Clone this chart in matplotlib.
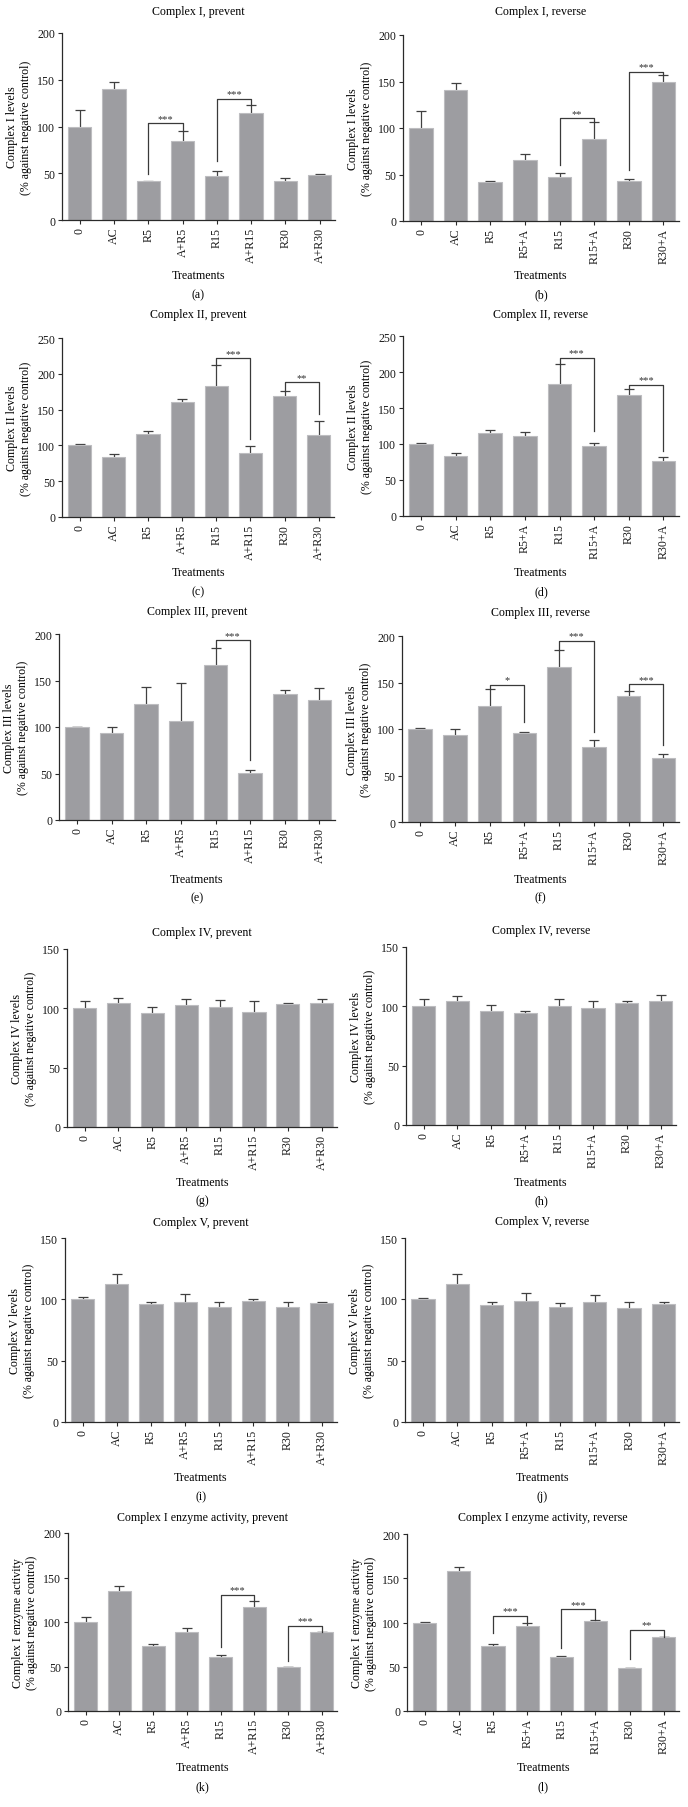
import matplotlib
matplotlib.use('Agg')
import matplotlib.pyplot as plt
import numpy as np

plt.rcParams['font.family'] = ['Liberation Serif', 'DejaVu Serif']

# ---------------- data ----------------
prevent_labels = ['0', 'AC', 'R5', 'A+R5', 'R15', 'A+R15', 'R30', 'A+R30']
reverse_labels = ['0', 'AC', 'R5', 'R5+A', 'R15', 'R15+A', 'R30', 'R30+A']

c1_prev = [100, 140.6, 41.5, 84, 46.9, 114.8, 42.2, 48]
c1_prev_err = [17.5, 7.4, 0.7, 10.8, 5, 8.2, 2.8, 1.7]
c1_rev = [100.4, 140.9, 41.9, 66, 47, 88.5, 42.6, 149]
c1_rev_err = [17.9, 7.5, 0.7, 5.7, 5, 17.5, 2.9, 7.6]

c2_prev = [100.4, 83.6, 115.7, 161.2, 183, 89.7, 168.7, 114.3]
c2_prev_err = [0.9, 4.2, 4.2, 3.3, 28.9, 9.7, 7.4, 19.5]
c2_rev = [100, 83.3, 115.3, 111.1, 182.9, 97.2, 168.5, 75.9]
c2_rev_err = [0.9, 3.7, 4.1, 5.6, 28.1, 4.7, 7.4, 5.6]

c3_prev = [100.2, 93.7, 124.9, 106.6, 166.7, 50.4, 135.6, 129.5]
c3_prev_err = [0.3, 6.1, 18.2, 40.4, 18.3, 2.9, 4.6, 12.5]
c3_rev = [100, 93.9, 125, 95.7, 167, 80.3, 135.8, 69.2]
c3_rev_err = [0.7, 6.1, 18.4, 1.1, 18.3, 7.9, 4.7, 3.9]

c4_prev = [100.2, 104.7, 96.3, 102.7, 100.8, 97.1, 103.3, 104.7]
c4_prev_err = [6.2, 3.9, 5, 5.4, 5.9, 8.7, 1.4, 3.1]
c4_rev = [100.1, 104.3, 96.1, 94.2, 100.4, 98.4, 102.9, 104.3]
c4_rev_err = [6.2, 4.2, 5.1, 2.2, 5.9, 6.5, 1.7, 5.1]

c5_prev = [100.3, 112.2, 95.9, 97.6, 93.8, 98.6, 93.8, 97]
c5_prev_err = [1.3, 8.2, 2.2, 6.5, 3.8, 1.4, 4, 0.6]
c5_rev = [100.1, 112.4, 95.7, 98.7, 93.5, 98.2, 93.3, 96.5]
c5_rev_err = [1.3, 7.9, 2.2, 6.8, 3.9, 5.7, 4.3, 1.4]

enz_prev = [99.6, 135.3, 72.9, 88.7, 60.9, 116.9, 48.9, 88.3]
enz_prev_err = [6, 5.3, 1.9, 4.5, 1.5, 6.8, 0, 0]
enz_rev = [100, 158.3, 73.3, 96.2, 60.9, 101.9, 48.5, 83.5]
enz_rev_err = [1.1, 4.9, 1.9, 3.8, 1.5, 1.1, 0, 0]

# significance brackets: (bar i, bar j, line height, left leg end, right leg end, label)
br_a = [(2, 3, 103.4, 49, 94.8, '***'), (4, 5, 129.5, 63, 123, '***')]
br_b = [(4, 5, 110.4, 60, 106, '**'), (6, 7, 160, 54.5, 156.6, '***')]
br_c = [(4, 5, 221.6, 211.9, 109.2, '***'), (6, 7, 188, 176.1, 144, '**')]
br_d = [(4, 5, 219.4, 211, 117.6, '***'), (6, 7, 182, 175.9, 90, '***')]
br_e = [(4, 5, 193.2, 185, 64.8, '***')]
br_f = [(2, 3, 147.7, 143.4, 108, '*'), (4, 5, 195, 185.3, 96.8, '***'),
        (6, 7, 148, 140.5, 82.4, '***')]
br_k = [(4, 5, 130.8, 71.4, 123.7, '***'), (6, 7, 95.5, 56.4, 88.3, '***')]
br_l = [(2, 3, 107.1, 88, 100, '***'), (4, 5, 114.7, 71, 103, '***'),
        (6, 7, 91.7, 59, 83.5, '**')]

titles = ['Complex I, prevent', 'Complex I, reverse',
          'Complex II, prevent', 'Complex II, reverse',
          'Complex III, prevent', 'Complex III, reverse',
          'Complex IV, prevent', 'Complex IV, reverse',
          'Complex V, prevent', 'Complex V, reverse',
          'Complex I enzyme activity, prevent', 'Complex I enzyme activity, reverse']
ylabels = ['Complex I levels', 'Complex I levels',
           'Complex II levels', 'Complex II levels',
           'Complex III levels', 'Complex III levels',
           'Complex IV levels', 'Complex IV levels',
           'Complex V levels', 'Complex V levels',
           'Complex I enzyme activity', 'Complex I enzyme activity']
letters = ['(a)', '(b)', '(c)', '(d)', '(e)', '(f)', '(g)', '(h)', '(i)', '(j)', '(k)', '(l)']
ymaxes = [200, 200, 250, 250, 200, 200, 150, 150, 150, 150, 200, 200]

series = [(c1_prev, c1_prev_err, prevent_labels, br_a), (c1_rev, c1_rev_err, reverse_labels, br_b),
          (c2_prev, c2_prev_err, prevent_labels, br_c), (c2_rev, c2_rev_err, reverse_labels, br_d),
          (c3_prev, c3_prev_err, prevent_labels, br_e), (c3_rev, c3_rev_err, reverse_labels, br_f),
          (c4_prev, c4_prev_err, prevent_labels, []), (c4_rev, c4_rev_err, reverse_labels, []),
          (c5_prev, c5_prev_err, prevent_labels, []), (c5_rev, c5_rev_err, reverse_labels, []),
          (enz_prev, enz_prev_err, prevent_labels, br_k), (enz_rev, enz_rev_err, reverse_labels, br_l)]

# ---------------- layout (pixels) ----------------
# left, top, right, bottom, title_y, xlabel_y, letter_y
layout = [
    (62, 34, 335, 221, 12, 276, 295),
    (403, 36, 679, 222, 12, 276, 295),
    (62, 339, 334, 518, 315, 573, 592),
    (403, 337, 679, 517, 315, 573, 592),
    (59, 635, 335, 821, 612, 880, 898),
    (402, 637, 679, 823, 613, 880, 898),
    (67, 950, 337, 1128, 933, 1183, 1201),
    (406, 948, 676, 1126, 931, 1183, 1201),
    (65, 1239, 337, 1423, 1223, 1478, 1497),
    (405, 1239, 679, 1423, 1222, 1478, 1497),
    (68, 1534, 337, 1712, 1518, 1768, 1787),
    (407, 1535, 679, 1712, 1518, 1768, 1787),
]

W, H = 688, 1808
fig = plt.figure(figsize=(W / 100, H / 100), dpi=100)

BAR = '#9d9da1'
EDGE = '#bdbdc0'
DARK = '#2a2a2a'
FS = 8.6

for k in range(12):
    L, T, R, B, ty, xy, ly = layout[k]
    vals, errs, labels, brackets = series[k]
    ax = fig.add_axes([L / W, 1 - B / H, (R - L) / W, (B - T) / H])
    x = np.arange(len(vals))
    ax.errorbar(x, vals, yerr=errs, fmt='none', ecolor='#404040', elinewidth=0.9,
                capsize=3.5, capthick=0.9, zorder=1)
    ax.bar(x, vals, width=0.68, color=BAR, edgecolor=EDGE, linewidth=0.8, zorder=2)
    ax.set_xlim(-0.52, 7.45)
    ax.set_ylim(0, ymaxes[k])
    ax.set_yticks(np.arange(0, ymaxes[k] + 1, 50))
    ax.set_xticks(x)
    ax.set_xticklabels(labels, rotation=90)
    for s in ('top', 'right'):
        ax.spines[s].set_visible(False)
    for s in ('left', 'bottom'):
        ax.spines[s].set_color(DARK)
        ax.spines[s].set_linewidth(0.9)
    ax.tick_params(axis='both', length=3, width=0.8, color=DARK, labelsize=FS,
                   labelcolor='#1a1a1a', pad=2)

    for (i, j, yt, yl, yr, s) in brackets:
        ax.plot([i, i, j, j], [yl, yt, yt, yr], color='#3a3a3a', lw=0.9,
                clip_on=False, zorder=3)
        ax.annotate(s, xy=((i + j) / 2, yt), xytext=(0, 0.5), textcoords='offset points',
                    ha='center', va='bottom', fontsize=7.5, color='#333333')

    ax.set_title(titles[k], fontsize=FS, y=(B - ty) / (B - T), pad=0, va='center')
    ax.set_xlabel('Treatments', fontsize=FS)
    ax.xaxis.set_label_coords(0.5, -(xy - B) / (B - T))
    ax.xaxis.label.set_va('center')
    ax.set_ylabel(ylabels[k] + '\n(% against negative control)', fontsize=FS,
                  linespacing=1.15)
    ax.yaxis.set_label_coords(-43 / (R - L), 0.5)
    ax.yaxis.label.set(ha='center', va='center', rotation_mode='default',
                       multialignment='center')

    fig.text((L + R) / 2 / W, 1 - ly / H, letters[k], ha='center', va='center', fontsize=FS)

fig.savefig('out.png', dpi=100, facecolor='white')
